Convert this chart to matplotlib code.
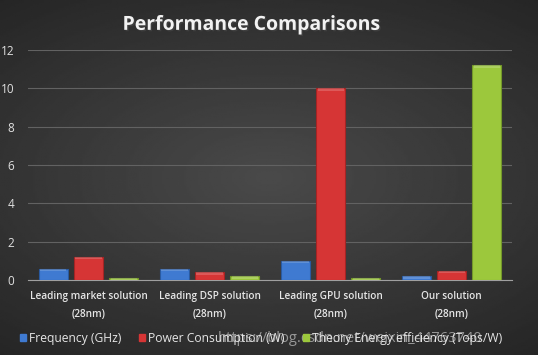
import numpy as np
import matplotlib.pyplot as plt
import matplotlib.patheffects as pe
from matplotlib.patches import Patch

# datos del grafico
categorias = ['Leading market solution\n(28nm)', 'Leading DSP solution\n(28nm)',
              'Leading GPU solution\n(28nm)', 'Our solution\n(28nm)']
frecuencia = [0.6, 0.6, 1.0, 0.2]
potencia = [1.2, 0.4, 10.0, 0.5]
eficiencia = [0.1, 0.2, 0.1, 11.2]
series = ['Frequency (GHz)', 'Power Consumption (W)', 'Theory Energy efficiency (Tops/W)']
colores = ['#3f7ad1', '#d63535', '#9cc83c']
bordes = ['#2a5aa0', '#a52424', '#74982a']

plt.rcParams['font.family'] = ['Open Sans', 'DejaVu Sans']

fig = plt.figure(figsize=(5.38, 3.55), dpi=100)

# fondo con degradado radial
bg = fig.add_axes([0, 0, 1, 1])
yy, xx = np.mgrid[-1:1:200j, -1:1:300j]
r = np.sqrt((xx * 0.9) ** 2 + (yy * 1.1) ** 2)
bg.imshow(0.29 - 0.10 * r, cmap='gray', vmin=0, vmax=1, aspect='auto',
          extent=[0, 1, 0, 1])
bg.axis('off')

ax = fig.add_axes([0.052, 0.211, 0.900, 0.648])
ax.patch.set_alpha(0)

x = np.arange(len(categorias))
ancho = 0.24
desp = 0.29
for i, vals in enumerate([frecuencia, potencia, eficiencia]):
    ax.bar(x + (i - 1) * desp, vals, ancho, color=colores[i], edgecolor=bordes[i],
           linewidth=0.8, zorder=3)
    # brillo superior
    ax.bar(x + (i - 1) * desp, [min(v, 0.12) for v in vals], ancho * 0.9,
           bottom=[v - min(v, 0.12) for v in vals], color='white', alpha=0.18,
           linewidth=0, zorder=4)

ax.set_xlim(-0.5, 3.5)
ax.set_ylim(0, 12)
ax.set_yticks(range(0, 13, 2))
ax.grid(axis='y', color='#626262', linewidth=0.8, zorder=0)
for s in ['top', 'right', 'left']:
    ax.spines[s].set_visible(False)
ax.spines['bottom'].set_color('#a0a0a0')
ax.tick_params(axis='both', length=0, colors='#e0e0e0')
ax.tick_params(axis='y', labelsize=8.5, pad=10)
ax.set_xticks(x)
ax.set_xticklabels(categorias, fontsize=7.2, color='#e6e6e6', fontweight='semibold',
                   linespacing=1.8)
ax.tick_params(axis='x', pad=8)

fig.text(0.468, 0.93, 'Performance Comparisons', ha='center', va='center',
         fontsize=14, fontweight='bold', color='#f2f2f2',
         path_effects=[pe.withSimplePatchShadow(offset=(1, -1), alpha=0.6)])

handles = [Patch(facecolor=c, edgecolor=c) for c in colores]
fig.legend(handles, series, loc='center', bbox_to_anchor=(0.485, 0.047), ncol=3,
           frameon=False, fontsize=8.7, labelcolor='#e6e6e6', handlelength=0.5,
           handleheight=0.6, handletextpad=0.25, columnspacing=1.5)

fig.text(0.65, 0.047, 'https://blog.csdn.net/weixin_44763740', ha='center',
         va='center', fontsize=10.5, color='white', alpha=0.5)

plt.savefig('out.png', dpi=100)
